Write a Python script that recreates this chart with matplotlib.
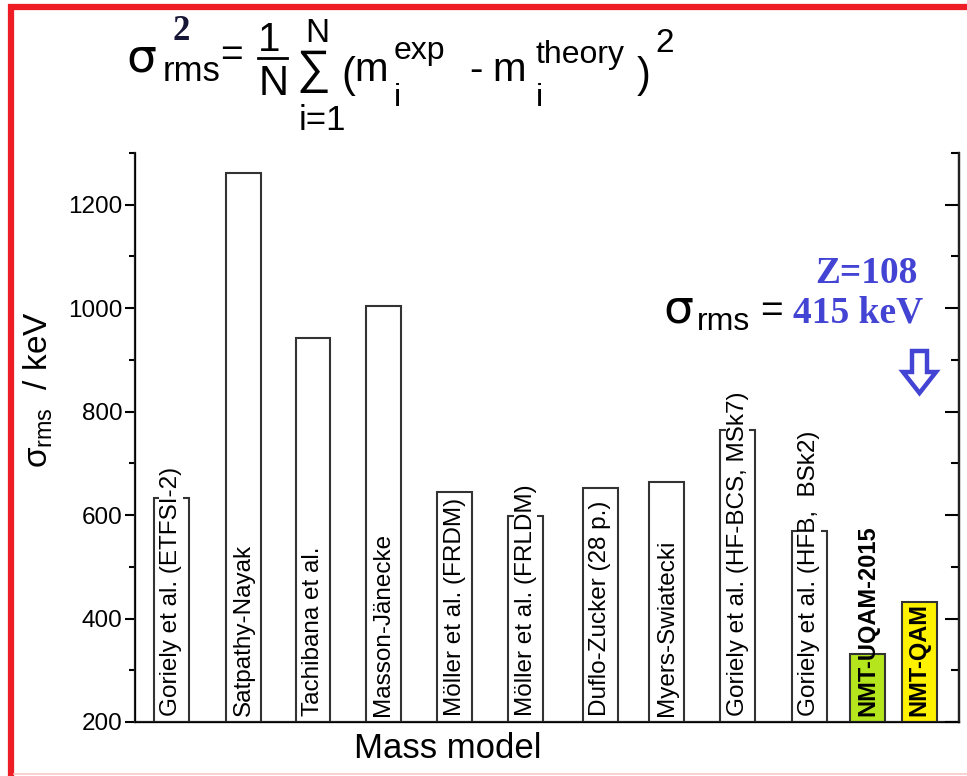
import matplotlib
matplotlib.use("Agg")
import matplotlib.pyplot as plt
from matplotlib.lines import Line2D
from matplotlib.patches import Polygon

plt.rcParams['font.family'] = ['Liberation Sans', 'DejaVu Sans']
plt.rcParams['mathtext.fontset'] = 'custom'
plt.rcParams['mathtext.rm'] = 'Liberation Sans'
plt.rcParams['mathtext.it'] = 'Liberation Sans'
plt.rcParams['mathtext.bf'] = 'Liberation Sans:bold'
plt.rcParams['mathtext.sf'] = 'Liberation Sans'

# ---- data ----
models = ["Goriely et al. (ETFSI-2)", "Satpathy-Nayak", "Tachibana et al.",
          "Masson-Jänecke", "Möller et al. (FRDM)", "Möller et al. (FRLDM)",
          "Duflo-Zucker (28 p.)", "Myers-Swiatecki",
          "Goriely et al. (HF-BCS, MSk7)", "Goriely et al. (HFB,  BSk2)",
          "NMT-UQAM-2015", "NMT-QAM"]
sigma_rms = [633, 1261, 942, 1004, 644, 598, 652, 664, 764, 569, 331, 432]
positions = [1, 2.02, 3.0, 3.99, 5.0, 6.0, 7.05, 7.99, 8.99, 10.0, 10.82, 11.55]
bar_colors = ["white"] * 10 + ["#b5e61d", "#fff200"]
yticks = [200, 400, 600, 800, 1000, 1200]

W, H = 967, 776
fig = plt.figure(figsize=(W / 100, H / 100), dpi=100)
ax = fig.add_axes([135 / W, 1 - 722 / H, (959 - 135) / W, (722 - 152.75) / H])


def T(x, y, s, size, **kw):
    """text placed at pixel position (x from left, y from top)"""
    kw.setdefault("ha", "left")
    kw.setdefault("va", "baseline")
    return fig.text(x / W, 1 - y / H, s, fontsize=size, **kw)


ax.bar(positions, sigma_rms, width=0.49, color=bar_colors,
       edgecolor="#333333", linewidth=1.5, zorder=2)

for i, (p, lab) in enumerate(zip(positions, models)):
    if i >= 10:
        ax.text(p, 211, lab, rotation=90, ha="center", va="bottom",
                fontsize=17, fontweight="bold", color="black", zorder=4)
    else:
        ax.text(p, 211, lab, rotation=90, ha="center", va="bottom",
                fontsize=17.5, color="black", zorder=4,
                bbox=dict(facecolor="white", edgecolor="none", pad=0.5))

ax.set_xlim(0.49, 12.11)
ax.set_ylim(200, 1300)
ax.set_yticks(yticks)
ax.set_yticks(range(300, 1301, 200), minor=True)
ax.set_xticks([])
ax.tick_params(axis="y", which="major", direction="out", length=7, width=1.5,
               labelsize=17.5, pad=2, colors="black")
ax.tick_params(axis="y", which="minor", direction="out", length=4, width=1.5)
ax.spines["top"].set_visible(False)
for s in ["left", "bottom", "right"]:
    ax.spines[s].set_linewidth(1.6)
    ax.spines[s].set_color("#222222")

ax2 = ax.twinx()
ax2.set_ylim(200, 1300)
ax2.set_yticks(yticks)
ax2.set_yticks(range(300, 1301, 200), minor=True)
ax2.tick_params(axis="y", which="major", direction="in", length=10, width=1.5,
                labelright=False)
ax2.tick_params(axis="y", which="minor", direction="in", length=6, width=1.5)
ax2.spines["top"].set_visible(False)
ax2.spines["right"].set_linewidth(1.6)
ax2.spines["right"].set_color("#222222")

# axis labels
T(448, 748, "Mass model", 25, ha="center", va="center")
T(38, 390, r"$\sigma_{\rm rms}$  / keV", 24, ha="center", va="center", rotation=90)

# formula  sigma^2_rms = 1/N sum (m_i^exp - m_i^theory)^2
T(126, 71, "σ", 34, family="DejaVu Sans")
T(163, 81, "rms", 25)
T(172, 40, "2", 25, family="Liberation Serif", fontweight="bold", color="#151535")
T(220, 66, "=", 28)
T(258, 51, "1", 29)
fig.add_artist(Line2D([258 / W, 287 / W], [1 - 58 / H, 1 - 58 / H],
                      transform=fig.transFigure, color="black", linewidth=2))
T(259, 95, "N", 30)
T(296, 83, "\u2211", 34)
T(305, 42, "N", 24)
T(299, 130, "i=1", 25)
T(341, 87, "(", 30)
T(354, 81, "m", 29)
T(394, 59, "exp", 23)
T(394, 106, "i", 23)
T(469, 81, "-", 29)
T(492, 81, "m", 29)
T(535, 63, "theory", 23)
T(536, 106, "i", 23)
T(637, 87, ")", 30)
T(655, 52, "2", 24)

# annotation
blue = "#4444d4"
T(866, 283, "Z=108", 27, family="Liberation Serif", fontweight="bold",
  color=blue, ha="center")
T(663, 322, "σ", 34, family="DejaVu Sans")
T(697, 330, "rms", 23)
T(760, 322, "=", 28)
T(923, 322, "415 keV", 27, family="Liberation Serif", fontweight="bold",
  color=blue, ha="right")

arrow_px = [(912, 351), (927, 351), (927, 372), (936, 372), (919.5, 393),
            (903, 372), (912, 372)]
fig.add_artist(Polygon([(x / W, 1 - y / H) for x, y in arrow_px], closed=True,
                       transform=fig.transFigure, facecolor="white",
                       edgecolor=blue, linewidth=3.2, joinstyle="miter"))

# red frame
fig.add_artist(Line2D([11 / W, 11 / W], [0, 1 - 4 / H], transform=fig.transFigure,
                      color="#ee1c25", linewidth=4.5, solid_capstyle="butt"))
fig.add_artist(Line2D([8 / W, 1], [1 - 7 / H, 1 - 7 / H], transform=fig.transFigure,
                      color="#ee1c25", linewidth=4.5, solid_capstyle="butt"))
fig.add_artist(Line2D([14 / W, 1], [1 - 774 / H, 1 - 774 / H], transform=fig.transFigure,
                      color="#f9c8c8", linewidth=1.2))

fig.savefig("out.png", dpi=100)
